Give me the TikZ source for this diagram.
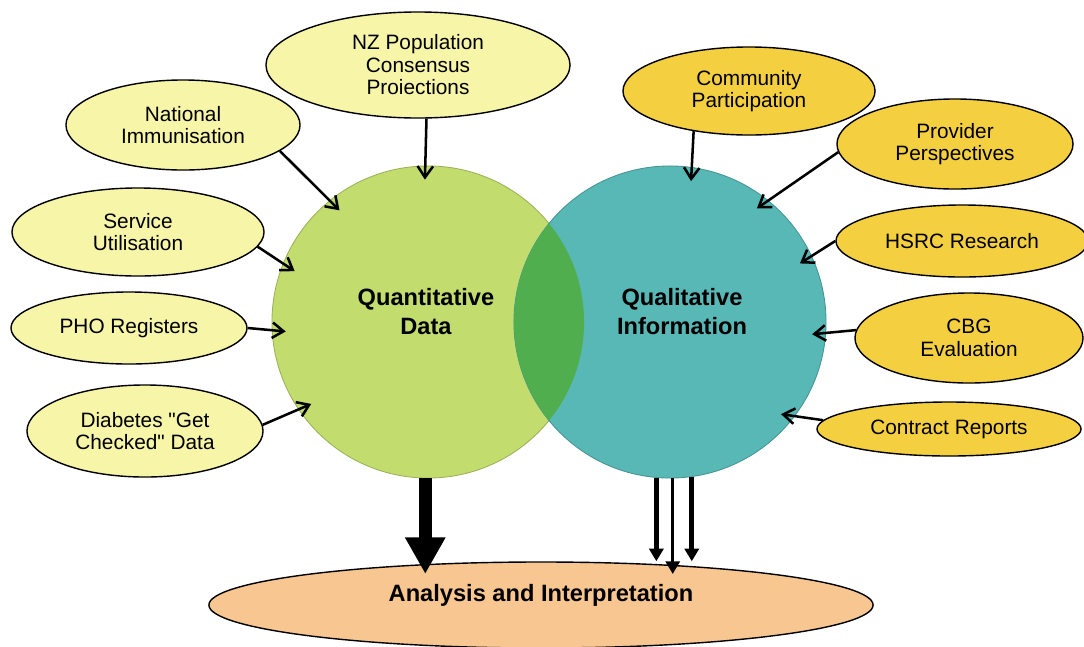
\documentclass[tikz,border=0pt]{standalone}
\usepackage{fontspec}
\setmainfont{Liberation Sans}
\usetikzlibrary{shapes.geometric,arrows.meta}
\definecolor{paleyellow}{HTML}{F7F5A8}
\definecolor{gold}{HTML}{F4D040}
\definecolor{quantgreen}{HTML}{C2DC6E}
\definecolor{qualteal}{HTML}{58B8B6}
\definecolor{lensgreen}{HTML}{50AE4E}
\definecolor{peach}{HTML}{F8C690}
\newcommand\dq{\XeTeXglyph\XeTeXcharglyph"22\relax}
\begin{document}
\begin{tikzpicture}[x=0.025cm,y=-0.025cm,
		src/.style={ellipse,draw=black,line width=1pt,inner sep=0pt,align=center,font=\fontsize{14.8}{16}\selectfont},
		quant/.style={src,fill=paleyellow},
		qual/.style={src,fill=gold},
		pool/.style={circle,inner sep=0pt,minimum size=7.8cm,line width=0.6pt},
		big/.style={align=center,font=\bfseries\fontsize{16.8}{20.6}\selectfont},
		feed/.style={line width=1.8pt,-{Straight Barb[length=8pt,width=11pt]},shorten >=-10pt},
		fat/.style={line width=9pt,-{Triangle[length=26pt,width=27pt]}},
		thin/.style={-{Triangle[length=9pt,width=10pt]}}]
		\useasboundingbox (0,0) rectangle (1084,646);
		\node[pool,fill=quantgreen,draw=quantgreen!80!black] (qd) at (428,322) {};
		\node[pool,fill=qualteal,draw=qualteal!80!black] (qi) at (670,322) {};
		\begin{scope}
			\clip (qd.center) circle[radius=3.9cm];
			\fill[lensgreen] (qi.center) circle[radius=3.9cm];
		\end{scope}
		\node[big] (qdtext) at (426,312) {Quantitative\\Data};
		\node[big] (qitext) at (682,312) {Qualitative\\Information};
		\node[quant,minimum width=7.6cm,minimum height=2.65cm] (nzpop) at (418,65) {NZ Population\\Consensus\\Proiections};
		\node[quant,minimum width=5.85cm,minimum height=2.25cm] (natimm) at (183,125) {National\\Immunisation};
		\node[quant,minimum width=6.3cm,minimum height=2.2cm] (servutil) at (138,232) {Service\\Utilisation};
		\node[quant,minimum width=5.9cm,minimum height=1.8cm] (phoreg) at (129,328) {PHO Registers};
		\node[quant,minimum width=5.9cm,minimum height=2.3cm] (diab) at (145,431) {Diabetes \dq Get\\Checked\dq{} Data};
		\node[qual,minimum width=6.3cm,minimum height=2.2cm] (commpart) at (749,91) {Community\\Participation};
		\node[qual,minimum width=5.9cm,minimum height=2.25cm] (provpersp) at (955,144) {Provider\\Perspectives};
		\node[qual,minimum width=6.3cm,minimum height=1.8cm] (hsrc) at (962,241) {HSRC Research};
		\node[qual,minimum width=5.7cm,minimum height=2.25cm] (cbg) at (969,338) {CBG\\Evaluation};
		\node[qual,minimum width=6.6cm,minimum height=1.35cm] (contract) at (949,429) {Contract Reports};
		\node[src,fill=peach,minimum width=16.6cm,minimum height=2.15cm] (ai) at (541,605) {};
		\node[big] (aitext) at (541,595) {Analysis and Interpretation};
		\draw[feed] (nzpop.-81) -- (qd.91);
		\draw[feed] (natimm.-15) -- (qd.129);
		\draw[feed] (servutil.-7) -- (qd.158);
		\draw[feed] (phoreg.east) -- (qd.183);
		\draw[feed] (diab.3) -- (qd.214);
		\draw[feed] (commpart.-144) -- (qi.82);
		\draw[feed] (provpersp.-176) -- (qi.51);
		\draw[feed] (hsrc.west) -- (qi.25);
		\draw[feed] (cbg.176) -- (qi.-4);
		\draw[feed] (contract.176) -- (qi.-37);
		\draw[fat,shorten >=-9pt] (qd.-91) -- (qd.-91 |- ai.north);
		\draw[thin,line width=3.4pt] (qi.-95) -- (qi.-95 |- ai.north);
		\draw[thin,line width=2.2pt,shorten >=-9pt] (qi.-89) -- (qi.-89 |- ai.north);
		\draw[thin,line width=3.4pt] (qi.-82) -- (qi.-82 |- ai.north);
	\end{tikzpicture}
\end{document}
